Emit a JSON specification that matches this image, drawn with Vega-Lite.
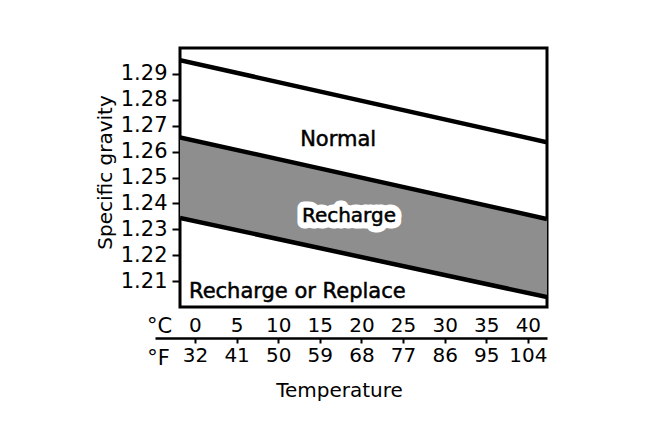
{
  "$schema": "https://vega.github.io/schema/vega-lite/v6.json",
  "width": 367,
  "height": 259,
  "autosize": "none",
  "padding": {"left": 180, "top": 48, "right": 121, "bottom": 114},
  "background": "white",
  "config": {
    "font": "DejaVu Sans",
    "view": {"stroke": "black", "strokeWidth": 3},
    "axis": {"labelColor": "black", "titleColor": "black", "grid": false, "titleFontWeight": "normal"}
  },
  "title": {
    "text": "Temperature",
    "orient": "bottom",
    "anchor": "middle",
    "frame": "group",
    "dx": -24,
    "offset": 13,
    "fontSize": 20,
    "fontWeight": "normal",
    "color": "black"
  },
  "datasets": {
    "bands": [
      {"t": -1.8, "top": 1.2953, "mid": 1.2655, "low": 1.2344},
      {"t": 42.3, "top": 1.2636, "mid": 1.2340, "low": 1.2038}
    ],
    "labels": [
      {"label": "Normal", "t": 17.2, "sg": 1.262},
      {"label": "Recharge", "t": 18.5, "sg": 1.2327},
      {"label": "Recharge or Replace", "t": 12.3, "sg": 1.2034}
    ],
    "fahrenheit": [{"f": 32}, {"f": 104}]
  },
  "resolve": {"scale": {"x": "independent"}, "axis": {"x": "independent"}},
  "layer": [
    {
      "encoding": {
        "x": {
          "field": "t", "type": "quantitative",
          "scale": {"domain": [-1.8, 42.3], "nice": false, "zero": false},
          "axis": {
            "orient": "bottom", "domain": false, "ticks": false,
            "values": [0, 5, 10, 15, 20, 25, 30, 35, 40], "tickCount": 12,
            "labelFontSize": 20, "labelPadding": 8, "labelFlush": false, "labelOverlap": false,
            "title": "°C", "titleX": -21, "titleY": 25, "titleAlign": "center",
            "titleBaseline": "alphabetic", "titleFontSize": 21
          }
        }
      },
      "layer": [
        {
          "data": {"name": "bands"},
          "mark": {"type": "area", "fill": "#8e8e8e", "clip": true},
          "encoding": {
            "y": {
              "field": "mid", "type": "quantitative",
              "scale": {"domain": [1.2, 1.3], "nice": false, "zero": false},
              "axis": {
                "values": [1.21, 1.22, 1.23, 1.24, 1.25, 1.26, 1.27, 1.28, 1.29], "tickCount": 12,
                "format": ".2f", "domain": false,
                "tickSize": 8, "tickWidth": 2, "tickColor": "black",
                "labelPadding": 5, "labelFontSize": 21, "labelOverlap": false, "labelFlush": false,
                "title": "Specific gravity", "titleX": -69, "titleY": 124, "titleAngle": -90,
                "titleAlign": "center", "titleBaseline": "alphabetic", "titleFontSize": 20
              }
            },
            "y2": {"field": "low"}
          }
        },
        {
          "data": {"name": "bands"},
          "transform": [{"fold": ["top", "mid", "low"], "as": ["line", "sg"]}],
          "mark": {"type": "line", "color": "black", "strokeWidth": 4.5, "clip": true},
          "encoding": {
            "y": {"field": "sg", "type": "quantitative", "title": "Specific gravity"},
            "detail": {"field": "line"}
          }
        },
        {
          "data": {"name": "labels"},
          "transform": [{"filter": "datum.label == 'Recharge'"}],
          "mark": {"type": "text", "fontSize": 20, "align": "center", "baseline": "alphabetic", "fill": "white", "stroke": "white", "strokeWidth": 13, "strokeJoin": "round"},
          "encoding": {
            "y": {"field": "sg", "type": "quantitative", "title": "Specific gravity"},
            "text": {"field": "label"}
          }
        },
        {
          "data": {"name": "labels"},
          "transform": [{"filter": "datum.label == 'Recharge'"}],
          "mark": {"type": "text", "fontSize": 20, "align": "center", "baseline": "alphabetic", "color": "black", "stroke": "black", "strokeWidth": 0.5},
          "encoding": {
            "y": {"field": "sg", "type": "quantitative", "title": "Specific gravity"},
            "text": {"field": "label"}
          }
        },
        {
          "data": {"name": "labels"},
          "transform": [{"filter": "datum.label != 'Recharge'"}],
          "mark": {"type": "text", "fontSize": 21, "align": "center", "baseline": "alphabetic", "color": "black", "stroke": "black", "strokeWidth": 0.5},
          "encoding": {
            "y": {"field": "sg", "type": "quantitative", "title": "Specific gravity"},
            "text": {"field": "label"}
          }
        }
      ]
    },
    {
      "data": {"name": "fahrenheit"},
      "mark": {"type": "point", "opacity": 0},
      "encoding": {
        "x": {
          "field": "f", "type": "quantitative",
          "scale": {"domain": [23.35, 108.14], "range": [-25, 367], "nice": false, "zero": false},
          "axis": {
            "orient": "bottom", "offset": 31,
            "domain": true, "domainColor": "black", "domainWidth": 2.5,
            "ticks": true, "tickSize": 5, "tickWidth": 2, "tickColor": "black",
            "values": [32, 41, 50, 59, 68, 77, 86, 95, 104], "tickCount": 12,
            "labelFontSize": 20, "labelPadding": 2, "labelFlush": false, "labelOverlap": false,
            "title": "°F", "titleX": -22, "titleY": 26, "titleAlign": "center",
            "titleBaseline": "alphabetic", "titleFontSize": 21
          }
        }
      }
    }
  ]
}
